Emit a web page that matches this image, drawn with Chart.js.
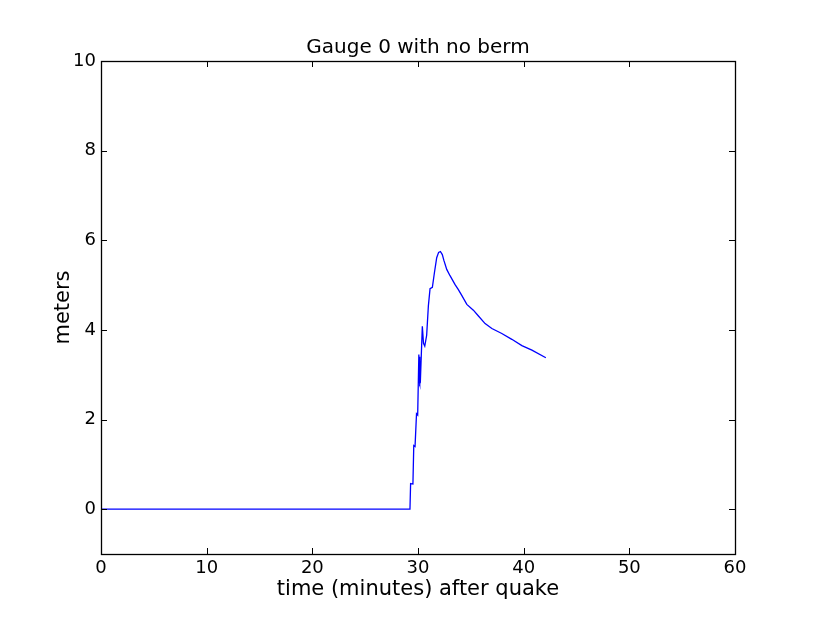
<!DOCTYPE html>
<html>
<head>
<meta charset="utf-8">
<script src="https://cdn.jsdelivr.net/npm/chart.js@4/dist/chart.umd.min.js"></script>
<style>
html,body{margin:0;padding:0;background:#fff;}
canvas{display:block;}
</style>
</head>
<body>
<canvas id="c" width="817" height="617"></canvas>
<script>
const titleText = "Gauge 0 with no berm";
const xLabel = "time (minutes) after quake";
const yLabel = "meters";
const xTicks = [0, 10, 20, 30, 40, 50, 60];
const yTicks = [0, 2, 4, 6, 8, 10];
const timeMin = [0, 29.24, 29.3, 29.52, 29.6, 29.72, 29.86, 29.97, 30.08, 30.12, 30.15, 30.18, 30.22, 30.41, 30.52, 30.64, 30.82, 30.98, 31.14, 31.36, 31.55, 31.77, 31.95, 32.12, 32.3, 32.45, 32.72, 33.03, 33.51, 33.82, 34.14, 34.62, 35.24, 35.72, 36.35, 36.99, 37.93, 38.88, 39.83, 40.78, 42.1];
const meters  = [0, 0,     0.57, 0.56,  1.42, 1.40,  2.13,  2.10,  3.45,  2.85,  3.40,  2.80,  2.83,  4.08,  3.70,  3.64,  3.88,  4.53,  4.92,  4.95,  5.27,  5.61,  5.73,  5.75,  5.68,  5.55,  5.35,  5.21,  5.01,  4.90,  4.77,  4.57,  4.44,  4.31,  4.14,  4.03,  3.92,  3.79,  3.65,  3.55,  3.38];

const points = timeMin.map((t, i) => ({x: t, y: meters[i]}));

const framePlugin = {
  id: 'frame',
  afterDraw(chart) {
    const {ctx, chartArea: a, scales} = chart;
    ctx.save();
    ctx.strokeStyle = '#000';
    ctx.lineWidth = 1;
    const L = 6;
    ctx.beginPath();
    xTicks.forEach(v => {
      const px = Math.round(scales.x.getPixelForValue(v)) + 0.5;
      ctx.moveTo(px, a.bottom); ctx.lineTo(px, a.bottom - L);
      ctx.moveTo(px, a.top); ctx.lineTo(px, a.top + L);
    });
    yTicks.forEach(v => {
      const py = Math.round(scales.y.getPixelForValue(v)) + 0.5;
      ctx.moveTo(a.left, py); ctx.lineTo(a.left + L, py);
      ctx.moveTo(a.right, py); ctx.lineTo(a.right - L, py);
    });
    ctx.stroke();
    ctx.lineWidth = 1.3;
    ctx.strokeRect(a.left + 0.5, a.top + 0.5, a.right - a.left, a.bottom - a.top);
    ctx.restore();
  }
};

const fontFam = "'DejaVu Sans', sans-serif";

new Chart(document.getElementById('c'), {
  type: 'line',
  data: {
    datasets: [{
      data: points,
      borderColor: '#0000ff',
      borderWidth: 1.3,
      pointRadius: 0,
      tension: 0,
      fill: false
    }]
  },
  options: {
    responsive: false,
    animation: false,
    layout: {padding: {left: 0, right: 82, top: 0, bottom: 0}},
    plugins: {
      legend: {display: false},
      tooltip: {enabled: false},
      title: {display: false}
    },
    scales: {
      x: {
        type: 'linear',
        min: 0, max: 60,
        grid: {display: false, drawTicks: false},
        border: {display: false},
        afterBuildTicks(s) { s.ticks = xTicks.map(v => ({value: v})); },
        afterFit(s) { s.height = 63; },
        ticks: {color: '#000', font: {family: fontFam, size: 18}, padding: 4, maxRotation: 0},
        title: {display: true, text: xLabel, color: '#000', font: {family: fontFam, size: 21}, padding: {top: 0, bottom: 14.4}}
      },
      xTop: {
        type: 'linear',
        position: 'top',
        min: 0, max: 60,
        grid: {display: false, drawTicks: false},
        border: {display: false},
        ticks: {display: false},
        afterFit(s) { s.height = 61; },
        title: {display: true, text: titleText, color: '#000', font: {family: fontFam, size: 20}, padding: {top: 35.5, bottom: 0}}
      },
      y: {
        type: 'linear',
        min: -1, max: 10,
        grid: {display: false, drawTicks: false},
        border: {display: false},
        afterBuildTicks(s) { s.ticks = yTicks.map(v => ({value: v})); },
        afterFit(s) { s.width = 101; },
        ticks: {color: '#000', font: {family: fontFam, size: 18}, padding: 5},
        title: {display: true, text: yLabel, color: '#000', font: {family: fontFam, size: 21}, padding: {top: 51.4, bottom: 0}}
      }
    }
  },
  plugins: [framePlugin]
});
</script>
</body>
</html>
